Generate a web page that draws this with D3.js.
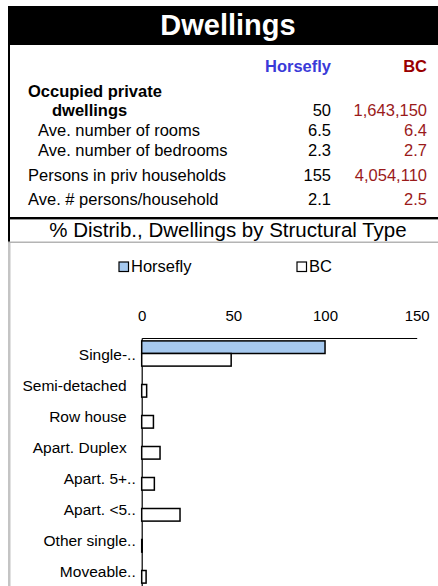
<!DOCTYPE html>
<html>
<head>
<meta charset="utf-8">
<script src="https://cdn.jsdelivr.net/npm/d3@7"></script>
<style>
  body { margin: 0; background: #fff; }
  text { font-family: "Liberation Sans", Arial, sans-serif; }
</style>
</head>
<body>
<div id="chart"></div>
<script>
// Table data
var tableLabels = ["Occupied private", "dwellings", "Ave. number of rooms", "Ave. number of bedrooms",
    "Persons in priv households", "Ave. # persons/household"];
var tableHorsefly = ["", "50", "6.5", "2.3", "155", "2.1"];
var tableBC = ["", "1,643,150", "6.4", "2.7", "4,054,110", "2.5"];

// Chart data
var categories = ["Single-..", "Semi-detached", "Row house", "Apart. Duplex", "Apart. 5+..", "Apart. <5..",
    "Other single..", "Moveable.."];
var horseflyPct = [100, 0, 0, 0, 0, 0, 0, 0];
var bcPct = [48.8, 2.7, 6.4, 10, 6.9, 20.9, 0.3, 2.4];
var seriesNames = ["Horsefly", "BC"];
var xTicks = [0, 50, 100, 150];

var svgWidth = 438;
var svgHeight = 586;

var svg = d3.select("#chart")
    .append("svg")
    .attr("width", svgWidth)
    .attr("height", svgHeight);

// header box
svg.append("rect").attr("x", 8).attr("y", 6).attr("width", 430).attr("height", 39).attr("fill", "#000");
svg.append("text")
    .attr("x", 228).attr("y", 35)
    .attr("text-anchor", "middle")
    .attr("fill", "#fff")
    .attr("font-size", "29px")
    .attr("font-weight", "bold")
    .text("Dwellings");

// borders
svg.append("rect").attr("x", 8).attr("y", 45).attr("width", 2).attr("height", 197).attr("fill", "#000");
svg.append("rect").attr("x", 8).attr("y", 217).attr("width", 430).attr("height", 2.4).attr("fill", "#000");
svg.append("rect").attr("x", 8).attr("y", 241.5).attr("width", 430).attr("height", 1.5).attr("fill", "#b4b4b4");
svg.append("rect").attr("x", 8).attr("y", 243).attr("width", 2.5).attr("height", 343).attr("fill", "#c4c4c4");

// table
var colH = 331, colBC = 427;
svg.append("text").attr("x", colH).attr("y", 72).attr("text-anchor", "end")
    .attr("font-size", "16.5px").attr("font-weight", "bold").attr("fill", "#3a3ad8").text("Horsefly");
svg.append("text").attr("x", colBC).attr("y", 72).attr("text-anchor", "end")
    .attr("font-size", "16.5px").attr("font-weight", "bold").attr("fill", "#990000").text("BC");

var rowY = [97, 116, 136, 156, 181, 205];
var rowX = [28, 52, 38, 38, 28, 28];

tableLabels.forEach(function(label, i) {
    svg.append("text")
        .attr("x", rowX[i]).attr("y", rowY[i])
        .attr("font-size", "16.5px")
        .attr("font-weight", i < 2 ? "bold" : "normal")
        .attr("fill", "#000")
        .text(label);
    svg.append("text")
        .attr("x", colH).attr("y", rowY[i])
        .attr("text-anchor", "end")
        .attr("font-size", "16.5px")
        .attr("fill", "#000")
        .text(tableHorsefly[i]);
    svg.append("text")
        .attr("x", colBC).attr("y", rowY[i])
        .attr("text-anchor", "end")
        .attr("font-size", "16.5px")
        .attr("fill", "#9a1a1a")
        .text(tableBC[i]);
});

// chart title
svg.append("text")
    .attr("x", 228).attr("y", 237)
    .attr("text-anchor", "middle")
    .attr("font-size", "20.5px")
    .attr("fill", "#000")
    .text("% Distrib., Dwellings by Structural Type");

// legend
var colors = { "Horsefly": "#a6c9ef", "BC": "#ffffff" };
var legendX = [119, 297];
seriesNames.forEach(function(name, i) {
    svg.append("rect")
        .attr("x", legendX[i]).attr("y", 262)
        .attr("width", 9.5).attr("height", 9.5)
        .attr("fill", colors[name])
        .attr("stroke", "#000")
        .attr("stroke-width", 1.2);
    svg.append("text")
        .attr("x", legendX[i] + 12).attr("y", 272)
        .attr("font-size", "16.5px")
        .attr("fill", "#000")
        .text(name);
});

// scales
var x = d3.scaleLinear().domain([0, 150]).range([141.7, 416.7]);
var y = d3.scaleBand().domain(categories).range([338, 338 + 31 * categories.length]).padding(0);
var ySub = d3.scaleBand().domain(seriesNames).range([0, y.bandwidth()]).paddingInner(0).paddingOuter(0.23);

var topAxis = d3.axisTop(x).tickValues(xTicks).tickSize(0).tickSizeOuter(0).tickPadding(17);
var gx = svg.append("g").attr("transform", "translate(0,338)").call(topAxis);
gx.select(".domain").attr("stroke", "#000").attr("stroke-width", 1.2);
gx.selectAll("text").attr("font-size", "15px").attr("fill", "#000").attr("font-family", "Liberation Sans, Arial, sans-serif");

var leftAxis = d3.axisLeft(y).tickSize(0).tickSizeOuter(0).tickPadding(15);
var gy = svg.append("g").attr("transform", "translate(141.7,0)").call(leftAxis);
gy.select(".domain").attr("stroke", "#000").attr("stroke-width", 1.2);
gy.selectAll("text")
    .attr("font-size", "15.5px").attr("fill", "#000")
    .attr("font-family", "Liberation Sans, Arial, sans-serif")
    .attr("dy", "0.45em")
    .attr("x", function(d) { return d.endsWith("..") ? -6 : -15; });

// bars
var barData = [];
categories.forEach(function(c, i) {
    barData.push({ cat: c, series: "Horsefly", value: horseflyPct[i] });
    barData.push({ cat: c, series: "BC", value: bcPct[i] });
});

svg.append("g").selectAll("rect")
    .data(barData.filter(function(d) { return d.value > 0; }))
    .enter()
    .append("rect")
    .attr("x", x(0))
    .attr("y", function(d) { return y(d.cat) + ySub(d.series); })
    .attr("width", function(d) { return x(d.value) - x(0); })
    .attr("height", ySub.bandwidth())
    .attr("fill", function(d) { return colors[d.series]; })
    .attr("stroke", "#000")
    .attr("stroke-width", 1.5);
</script>
</body>
</html>
